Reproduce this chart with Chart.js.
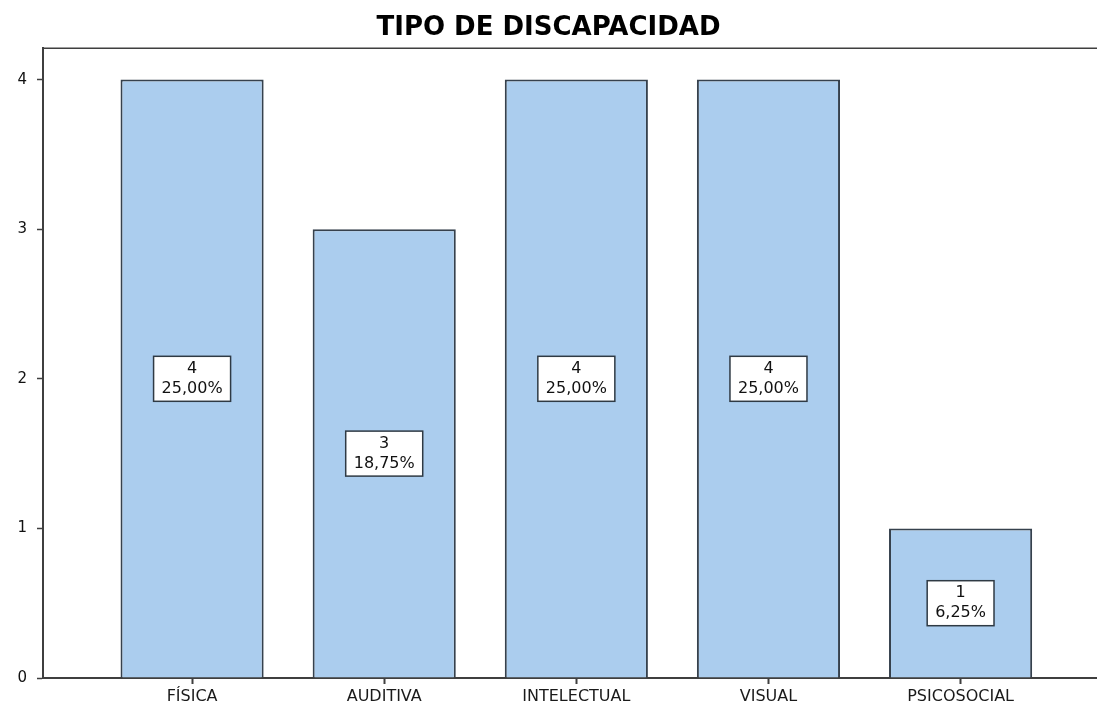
<!DOCTYPE html>
<html>
<head>
<meta charset="utf-8">
<script src="https://cdn.jsdelivr.net/npm/chart.js@4"></script>
<style>
  html, body { margin: 0; padding: 0; background: #fff; }
  #wrap { width: 1097px; height: 704px; }
</style>
</head>
<body>
<div id="wrap"><canvas id="barChart"></canvas></div>
<script>
const categories = ['FÍSICA', 'AUDITIVA', 'INTELECTUAL', 'VISUAL', 'PSICOSOCIAL'];
const counts = [4, 3, 4, 4, 1];
const yTicks = [0, 1, 2, 3, 4];

const total = counts.reduce((a, b) => a + b, 0);
const axisColor = '#3f3f3f';

// top line of the frame
const frameTop = {
  id: 'frameTop',
  afterDraw(chart) {
    const { ctx, chartArea } = chart;
    ctx.save();
    ctx.strokeStyle = axisColor;
    ctx.lineWidth = 1.5;
    ctx.beginPath();
    ctx.moveTo(chartArea.left, chartArea.top);
    ctx.lineTo(chartArea.right, chartArea.top);
    ctx.stroke();
    ctx.restore();
  }
};

// boxed labels "n / pct" in the middle of each bar
const boxLabels = {
  id: 'boxLabels',
  afterDatasetsDraw(chart) {
    const { ctx } = chart;
    const yScale = chart.scales.y;
    const meta = chart.getDatasetMeta(0);
    ctx.save();
    ctx.font = '16px "DejaVu Sans"';
    ctx.textAlign = 'center';
    ctx.textBaseline = 'middle';
    meta.data.forEach((bar, i) => {
      const n = counts[i];
      const pct = (n / total * 100).toFixed(2).replace('.', ',') + '%';
      const cy = yScale.getPixelForValue(n / 2);
      const w = ctx.measureText(pct).width + 16;
      const h = 45;
      ctx.fillStyle = '#ffffff';
      ctx.fillRect(bar.x - w / 2, cy - h / 2, w, h);
      ctx.strokeStyle = '#2f3a44';
      ctx.lineWidth = 1.5;
      ctx.strokeRect(bar.x - w / 2, cy - h / 2, w, h);
      ctx.fillStyle = '#111';
      ctx.fillText(String(n), bar.x, cy - 10);
      ctx.fillText(pct, bar.x, cy + 10);
    });
    ctx.restore();
  }
};

const chart = new Chart(document.getElementById('barChart'), {
  type: 'bar',
  data: {
    datasets: [{
      data: counts.map((v, i) => ({ x: i, y: v })),
      backgroundColor: '#abcdee',
      borderColor: '#36414d',
      borderWidth: 2,
      categoryPercentage: 1,
      barPercentage: 0.745
    }]
  },
  options: {
    responsive: true,
    maintainAspectRatio: false,
    animation: false,
    layout: { padding: { left: 0, right: 0, top: 0, bottom: 0 } },
    plugins: {
      legend: { display: false },
      tooltip: { enabled: false },
      title: {
        display: true,
        text: 'TIPO DE DISCAPACIDAD',
        color: '#000',
        font: { family: '"DejaVu Sans"', size: 26, weight: 'bold' },
        padding: { top: 13, bottom: 4 }
      }
    },
    scales: {
      x: {
        type: 'linear',
        offset: false,
        min: -0.776,
        max: 4.71,
        afterBuildTicks: axis => {
          axis.ticks = axis.ticks.filter(t => Number.isInteger(t.value) && t.value >= 0 && t.value < categories.length);
        },
        afterFit: axis => { axis.height = 26; },
        ticks: {
          stepSize: 1,
          autoSkip: false,
          maxRotation: 0,
          padding: 3,
          color: '#1a1a1a',
          font: { family: '"DejaVu Sans"', size: 16 },
          callback: v => categories[v]
        },
        grid: {
          display: true,
          drawOnChartArea: false,
          drawTicks: true,
          tickLength: 6,
          tickWidth: 2,
          tickColor: axisColor,
          offset: false
        },
        border: { display: true, color: axisColor, width: 2 }
      },
      y: {
        min: 0,
        max: 4.21,
        afterBuildTicks: axis => {
          axis.ticks = yTicks.map(v => ({ value: v }));
        },
        afterFit: axis => { axis.width = 43; },
        ticks: {
          stepSize: 1,
          padding: 10,
          color: '#111',
          font: { family: '"DejaVu Sans"', size: 15 }
        },
        grid: {
          display: true,
          drawOnChartArea: false,
          drawTicks: true,
          tickLength: 6,
          tickWidth: 1.5,
          tickColor: axisColor
        },
        border: { display: true, color: axisColor, width: 2 }
      }
    }
  },
  plugins: [frameTop, boxLabels]
});
</script>
</body>
</html>
